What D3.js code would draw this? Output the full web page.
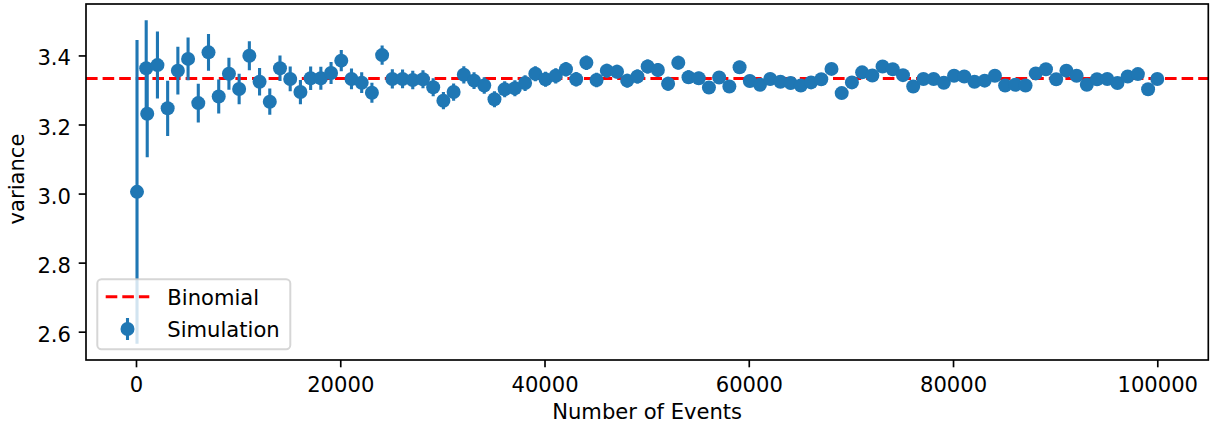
<!DOCTYPE html>
<html>
<head>
<meta charset="utf-8">
<script src="https://cdn.jsdelivr.net/npm/d3@7"></script>
<style>
  html, body { margin: 0; padding: 0; background: #ffffff; }
  svg { display: block; }
  text { font-family: "DejaVu Sans", sans-serif; fill: #000; }
</style>
</head>
<body>
<svg id="chart" width="1210" height="427"></svg>
<script>
// ---------------- data ----------------
const events = [100, 1000, 1100, 2100, 3100, 4100, 5100, 6100, 7100, 8100, 9100,
  10100, 11100, 12100, 13100, 14100, 15100, 16100, 17100, 18100, 19100,
  20100, 21100, 22100, 23100, 24100, 25100, 26100, 27100, 28100, 29100,
  30100, 31100, 32100, 33100, 34100, 35100, 36100, 37100, 38100, 39100,
  40100, 41100, 42100, 43100, 44100, 45100, 46100, 47100, 48100, 49100,
  50100, 51100, 52100, 53100, 54100, 55100, 56100, 57100, 58100, 59100,
  60100, 61100, 62100, 63100, 64100, 65100, 66100, 67100, 68100, 69100,
  70100, 71100, 72100, 73100, 74100, 75100, 76100, 77100, 78100, 79100,
  80100, 81100, 82100, 83100, 84100, 85100, 86100, 87100, 88100, 89100,
  90100, 91100, 92100, 93100, 94100, 95100, 96100, 97100, 98100, 99100, 100000];

const variance = [3.005, 3.363, 3.231, 3.372, 3.247, 3.356, 3.390, 3.262, 3.409, 3.281, 3.347,
  3.303, 3.399, 3.324, 3.266, 3.363, 3.332, 3.294, 3.334, 3.334, 3.349,
  3.385, 3.332, 3.321, 3.292, 3.401, 3.332, 3.332, 3.329, 3.331, 3.308,
  3.269, 3.294, 3.344, 3.327, 3.313, 3.273, 3.302, 3.305, 3.320, 3.347,
  3.331, 3.341, 3.360, 3.331, 3.379, 3.329, 3.356, 3.353, 3.327, 3.339,
  3.368, 3.358, 3.318, 3.379, 3.337, 3.334, 3.307, 3.336, 3.310, 3.366,
  3.326, 3.315, 3.332, 3.324, 3.320, 3.313, 3.322, 3.331, 3.361, 3.291,
  3.322, 3.351, 3.342, 3.368, 3.360, 3.343, 3.310, 3.332, 3.332, 3.321,
  3.341, 3.339, 3.324, 3.327, 3.341, 3.313, 3.315, 3.313, 3.348, 3.360,
  3.331, 3.356, 3.341, 3.315, 3.331, 3.332, 3.320, 3.339, 3.346, 3.302, 3.332];

const errors = [0.440, 0.139, 0.126, 0.097, 0.080, 0.069, 0.062, 0.056, 0.053, 0.049, 0.046,
  0.044, 0.042, 0.040, 0.038, 0.037, 0.036, 0.035, 0.034, 0.033, 0.032,
  0.031, 0.030, 0.030, 0.029, 0.028, 0.028, 0.027, 0.027, 0.026, 0.026,
  0.025, 0.025, 0.025, 0.024, 0.024, 0.023, 0.023, 0.023, 0.023, 0.022,
  0.022, 0.022, 0.021, 0.021, 0.021, 0.021, 0.020, 0.020, 0.020, 0.020,
  0.020, 0.020, 0.020, 0.020, 0.020, 0.019, 0.019, 0.019, 0.019, 0.019,
  0.018, 0.018, 0.018, 0.018, 0.018, 0.018, 0.017, 0.017, 0.017, 0.017,
  0.017, 0.017, 0.016, 0.016, 0.016, 0.016, 0.016, 0.016, 0.016, 0.016,
  0.016, 0.016, 0.015, 0.015, 0.015, 0.015, 0.015, 0.015, 0.015, 0.015,
  0.015, 0.015, 0.015, 0.014, 0.014, 0.014, 0.014, 0.014, 0.014, 0.014, 0.014];

const binomialVariance = 3.3333;
const xTicks = [0, 20000, 40000, 60000, 80000, 100000];
const yTicks = [2.6, 2.8, 3.0, 3.2, 3.4];
const xDomain = [-4895, 104995];
const yDomain = [2.518, 3.549];
const legendLabels = ["Binomial", "Simulation"];
const xLabel = "Number of Events";
const yLabel = "variance";

// ---------------- layout ----------------
const W = 1210, H = 427;
const margin = { left: 86, right: 1.7, top: 4, bottom: 67 };
const pw = W - margin.left - margin.right;
const ph = H - margin.top - margin.bottom;
const FS = 21.1;
const blue = "#1f77b4";

const svg = d3.select("#chart");
const x = d3.scaleLinear().domain(xDomain).range([0, pw]);
const y = d3.scaleLinear().domain(yDomain).range([ph, 0]);

const g = svg.append("g").attr("transform", `translate(${margin.left},${margin.top})`);

const data = events.map((e, i) => ({ x: e, y: variance[i], err: errors[i] }));

svg.append("defs").append("clipPath").attr("id", "clip")
  .append("rect").attr("width", pw).attr("height", ph);

const plot = g.append("g").attr("clip-path", "url(#clip)");

// binomial line
plot.append("line")
  .attr("x1", 0).attr("x2", pw)
  .attr("y1", y(binomialVariance)).attr("y2", y(binomialVariance))
  .attr("stroke", "#ff0000").attr("stroke-width", 3.1)
  .attr("stroke-dasharray", "11.6,5");

// error bars
plot.append("g").selectAll("line").data(data).join("line")
  .attr("x1", d => x(d.x)).attr("x2", d => x(d.x))
  .attr("y1", d => y(d.y - d.err)).attr("y2", d => y(d.y + d.err))
  .attr("stroke", blue).attr("stroke-width", 3.1);

// markers
plot.append("g").selectAll("circle").data(data).join("circle")
  .attr("cx", d => x(d.x)).attr("cy", d => y(d.y))
  .attr("r", 7).attr("fill", blue);

// axes
const xAxis = d3.axisBottom(x).tickValues(xTicks).tickFormat(d3.format("d"))
  .tickSize(7.3).tickPadding(7.3);
const yAxis = d3.axisLeft(y).tickValues(yTicks).tickFormat(d3.format(".1f"))
  .tickSize(7.3).tickPadding(7.3);

const gx = g.append("g").attr("transform", `translate(0,${ph})`).call(xAxis);
const gy = g.append("g").call(yAxis);
[gx, gy].forEach(a => {
  a.select(".domain").remove();
  a.selectAll(".tick line").attr("stroke", "#000").attr("stroke-width", 1.67);
  a.selectAll(".tick text").attr("font-size", FS).attr("font-family", "DejaVu Sans").attr("fill", "#000");
});
gx.selectAll(".tick text").attr("dy", null).attr("y", 32.3);
gy.selectAll(".tick text").attr("dy", null).attr("x", -15).attr("y", 9.5);

// frame
g.append("rect").attr("width", pw).attr("height", ph)
  .attr("fill", "none").attr("stroke", "#000").attr("stroke-width", 1.67);

// axis labels
svg.append("text").attr("x", margin.left + pw / 2).attr("y", 419)
  .attr("text-anchor", "middle").attr("font-size", FS).text(xLabel);
svg.append("text").attr("transform", `translate(24,${margin.top + ph / 2 - 3}) rotate(-90)`)
  .attr("text-anchor", "middle").attr("font-size", FS).text(yLabel);

// legend
const lg = svg.append("g");
lg.append("rect").attr("x", 97.3).attr("y", 279.3).attr("width", 193).attr("height", 70)
  .attr("rx", 4.2).attr("ry", 4.2)
  .attr("fill", "#ffffff").attr("fill-opacity", 0.8)
  .attr("stroke", "#cccccc").attr("stroke-opacity", 0.8).attr("stroke-width", 2);
lg.append("line").attr("x1", 105.7).attr("x2", 149.3).attr("y1", 296.7).attr("y2", 296.7)
  .attr("stroke", "#ff0000").attr("stroke-width", 3.1).attr("stroke-dasharray", "11.6,5");
lg.append("line").attr("x1", 127.5).attr("x2", 127.5).attr("y1", 318).attr("y2", 340)
  .attr("stroke", blue).attr("stroke-width", 3.1);
lg.append("circle").attr("cx", 127.5).attr("cy", 329).attr("r", 7).attr("fill", blue);
lg.append("text").attr("x", 167.3).attr("y", 305).attr("font-size", FS).text(legendLabels[0]);
lg.append("text").attr("x", 167.3).attr("y", 336.5).attr("font-size", FS).text(legendLabels[1]);
</script>
</body>
</html>
